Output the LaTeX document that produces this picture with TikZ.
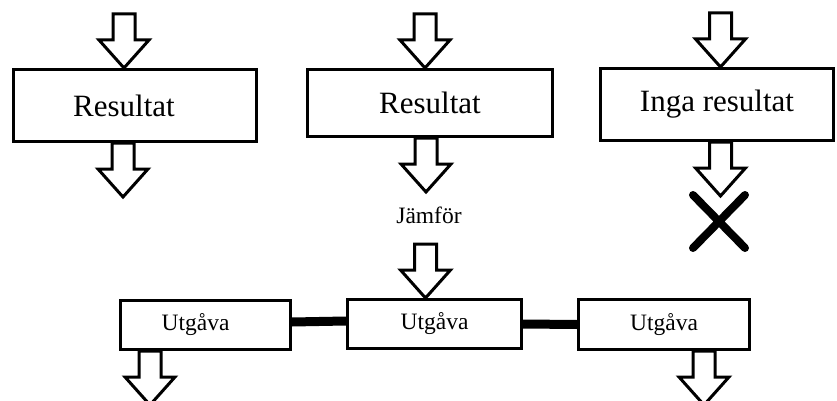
\documentclass[tikz,border=0pt]{standalone}
\usepackage{fontspec}
\setmainfont{Liberation Serif}
\usetikzlibrary{calc,shapes.misc}

\begin{document}
\begin{tikzpicture}[x=1pt,y=-1pt,
        box/.style = {draw, line width=3pt, fill=white, inner sep=0pt},
        big/.style = {box, font=\fontsize{31}{36}\selectfont},
        small/.style = {box, font=\fontsize{23.5}{28}\selectfont},
        bar/.style = {line width=9pt},
        darrow/.pic = {\draw[line width=3pt, fill=white, line join=miter]
            (-11,0) -- (11,0) -- (11,26) -- (25,26) -- (0,54) -- (-25,26) -- (-11,26) -- cycle;}]
        \useasboundingbox (0,0) rectangle (837,401);
        \node[big, minimum width=243pt, minimum height=72pt] (r1) at (135,105.5) {Resultat\hspace*{22pt}};
        \node[big, minimum width=245pt, minimum height=67pt] (r2) at (430,103) {Resultat};
        \node[big, minimum width=233pt, minimum height=72pt] (r3) at (717,104.5) {Inga resultat};
        \node[small, minimum width=170pt, minimum height=49pt] (u1) at (205.5,325) {Utgåva\hspace*{20pt}};
        \node[small, minimum width=174pt, minimum height=49pt] (u2) at (434.5,324) {Utgåva};
        \node[small, minimum width=171pt, minimum height=50pt] (u3) at (664,324.5) {Utgåva};
        \node[font=\fontsize{23.5}{28}\selectfont] (cmp) at (429,215) {Jämför};
        \node[cross out, draw, line width=8pt, line cap=round, minimum width=44pt, minimum height=45pt] (no) at (719,221.5) {};
        % arrows in and out
        \pic at ($(r1.north)+(-11,-54)$) {darrow};
        \pic at ($(r2.north)+(-5,-54)$) {darrow};
        \pic at ($(r3.north)+(3.5,-54)$) {darrow};
        \pic at ($(r1.south)+(-12,0)$) {darrow};
        \pic at ($(r2.south)+(-4,0)$) {darrow};
        \pic at ($(r3.south)+(3.5,0)$) {darrow};
        \pic at ($(u2.north)+(-9,-54)$) {darrow};
        \pic at ($(u1.south)+(-55.5,0)$) {darrow};
        \pic at ($(u3.south)+(40,0)$) {darrow};
        \draw[bar] ([yshift=3pt]u1.east) -- ([yshift=3pt]u2.west);
        \draw[bar] (u2.east) -- (u3.west);
\end{tikzpicture}
\end{document}
